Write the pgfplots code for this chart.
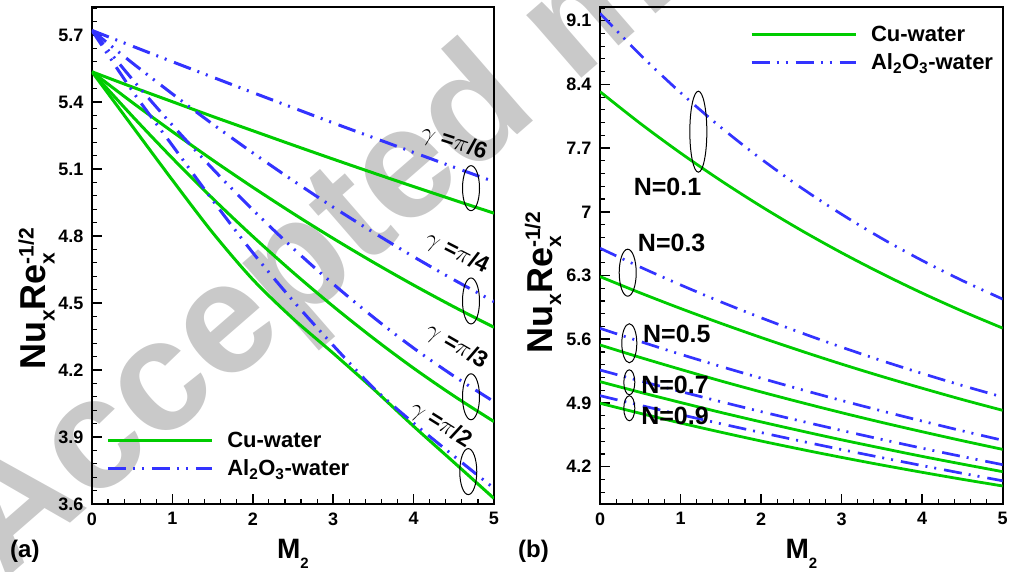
\documentclass[border=0pt]{standalone}
\usepackage{fontspec}
\setmainfont{Liberation Sans}
\usepackage{pgfplots}
\pgfplotsset{compat=1.18}

\definecolor{cuGreen}{RGB}{0,204,0}
\definecolor{alBlue}{RGB}{51,51,255}

\tikzset{
  cu/.style={cuGreen, line width=3pt, solid},
  al/.style={alBlue, line width=3pt, dash pattern=on 18pt off 7pt on 2pt off 7pt on 2pt off 8pt},
  cuR/.style={cu, line width=2.8pt},
  alR/.style={al, line width=2.7pt},
}

% Nu_x Re_x^{-1/2} with stacked sub/superscript
\newcommand{\nure}{Nu\raisebox{-9pt}{\fontsize{21}{21}\selectfont x}Re\rlap{\raisebox{-9pt}{\fontsize{21}{21}\selectfont x}}\raisebox{12pt}{\fontsize{21}{21}\selectfont -1/2}}
\newcommand{\mtwo}{M\raisebox{-10pt}{\fontsize{15}{15}\selectfont 2}}

\pgfplotsset{
  panel/.style={
    scale only axis, height=497pt, xmin=0, xmax=5,
    axis line style={line width=2pt},
    tick align=inside, tick pos=left,
    major tick length=10pt, minor tick length=5pt,
    major tick style={black, line width=1.6pt},
    minor tick style={black, line width=1.2pt},
    xtick={0,1,2,3,4,5}, minor xtick={0,0.2,...,5},
    /pgf/number format/assume math mode=true,
    ticklabel style={font=\bfseries\fontsize{18}{18}\selectfont},
    yticklabel style={xshift=-5pt},
    xticklabel style={yshift=-5pt},
    xlabel={\mtwo},
    xlabel style={font=\bfseries\fontsize{28}{28}\selectfont, at={(axis description cs:0.5,0)}, anchor=base, yshift=-54pt},
    ylabel={\nure},
    ylabel style={font=\bfseries\fontsize{36}{36}\selectfont, anchor=center},
    legend cell align=left,
    legend image code/.code={\draw[##1] (0pt,0pt) -- (104pt,0pt);},
    legend style={draw=none, fill=none, inner sep=0pt, nodes={inner sep=2pt},
      font=\bfseries\fontsize{22}{22}\selectfont, row sep=7pt,
      /tikz/every odd column/.append style={column sep=12pt}},
  }
}

\begin{document}
\begin{tikzpicture}
\path[use as bounding box] (0pt,0pt) rectangle (1009pt,571pt);

% watermark
\node[anchor=base west, rotate=41, text=black!21, inner sep=0pt,
      font=\bfseries\fontsize{158}{158}\selectfont] at (4pt,-10pt) {Accepted manuscript};

% (a) effect of inclination angle
\begin{axis}[panel, at={(92pt,67pt)}, anchor=south west, width=402pt,
  ymin=3.6, ymax=5.825,
  ytick={3.6,3.9,4.2,4.5,4.8,5.1,5.4,5.7},
  minor ytick={3.6,3.66,...,5.82},
  ylabel style={at={(axis description cs:-0.138,0.4125)}},
  legend style={at={(axis description cs:0.035,0.15)}, anchor=north west},
]
% gamma = pi/6
\addplot[cu, smooth, forget plot] coordinates {(0,5.535)(0.5,5.467)(1,5.401)(1.5,5.335)(2,5.271)(2.5,5.207)(3,5.144)(3.5,5.082)(4,5.021)(4.5,4.961)(5,4.902)};
\addplot[al, smooth, forget plot] coordinates {(0,5.720)(0.5,5.650)(1,5.580)(1.5,5.511)(2,5.442)(2.5,5.374)(3,5.306)(3.5,5.240)(4,5.174)(4.5,5.108)(5,5.043)};
% gamma = pi/4
\addplot[cu, smooth, forget plot] coordinates {(0,5.535)(0.5,5.398)(1,5.267)(1.5,5.140)(2,5.018)(2.5,4.901)(3,4.789)(3.5,4.682)(4,4.580)(4.5,4.483)(5,4.391)};
\addplot[al, smooth, forget plot] coordinates {(0,5.720)(0.5,5.575)(1,5.436)(1.5,5.301)(2,5.172)(2.5,5.048)(3,4.929)(3.5,4.816)(4,4.707)(4.5,4.604)(5,4.506)};
% gamma = pi/3
\addplot[cu, smooth, forget plot] coordinates {(0,5.535)(0.5,5.337)(1,5.148)(1.5,4.968)(2,4.798)(2.5,4.637)(3,4.485)(3.5,4.342)(4,4.208)(4.5,4.084)(5,3.969)};
\addplot[al, smooth, forget plot] coordinates {(0,5.720)(0.5,5.502)(1,5.296)(1.5,5.101)(2,4.917)(2.5,4.745)(3,4.585)(3.5,4.436)(4,4.298)(4.5,4.173)(5,4.058)};
% gamma = pi/2
\addplot[cu, smooth, forget plot] coordinates {(0,5.535)(0.5,5.292)(1,5.050)(1.5,4.815)(2,4.605)(2.5,4.430)(3,4.275)(3.5,4.115)(4,3.948)(4.5,3.787)(5,3.625)};
\addplot[al, smooth, forget plot] coordinates {(0,5.720)(0.5,5.450)(1,5.205)(1.5,4.960)(2,4.725)(2.5,4.510)(3,4.310)(3.5,4.120)(4,3.962)(4.5,3.815)(5,3.670)};

\addlegendimage{cu}\addlegendentry{Cu-water}
\addlegendimage{al}\addlegendentry{Al\textsubscript{2}O\textsubscript{3}-water}

\draw[black, line width=1pt] (axis cs:4.714,5.014) ellipse [x radius=8.5pt, y radius=22.5pt];
\draw[black, line width=1pt] (axis cs:4.714,4.509) ellipse [x radius=8.5pt, y radius=23pt];
\draw[black, line width=1pt] (axis cs:4.714,4.080) ellipse [x radius=8.5pt, y radius=23pt];
\draw[black, line width=1pt] (axis cs:4.680,3.745) ellipse [x radius=8.5pt, y radius=23pt];

\begin{scope}[every node/.style={font=\bfseries\fontsize{23}{23}\selectfont, inner sep=0pt}]
\node[rotate=-18] at (axis cs:4.502,5.215) {$\gamma$ =$\pi$/6};
\node[rotate=-27] at (axis cs:4.536,4.723) {$\gamma$ =$\pi$/4};
\node[rotate=-30] at (axis cs:4.536,4.304) {$\gamma$ =$\pi$/3};
\node[rotate=-32] at (axis cs:4.337,3.954) {$\gamma$ =$\pi$/2};
\end{scope}
\end{axis}

% (b) effect of N
\begin{axis}[panel, at={(600pt,67pt)}, anchor=south west, width=402.7pt,
  ymin=3.79, ymax=9.25,
  ytick={4.2,4.9,5.6,6.3,7,7.7,8.4,9.1},
  minor ytick={3.92,4.06,...,9.24},
  ylabel style={at={(axis description cs:-0.1415,0.4457)}},
  legend style={at={(axis description cs:0.3725,0.966)}, anchor=north west},
]
% N = 0.1
\addplot[cuR, smooth, forget plot] coordinates {(0,8.320)(0.5,7.971)(1,7.646)(1.5,7.343)(2,7.060)(2.5,6.796)(3,6.550)(3.5,6.321)(4,6.107)(4.5,5.908)(5,5.722)};
\addplot[alR, smooth, forget plot] coordinates {(0,9.180)(0.5,8.725)(1,8.309)(1.5,7.928)(2,7.581)(2.5,7.263)(3,6.973)(3.5,6.707)(4,6.465)(4.5,6.244)(5,6.041)};
% N = 0.3
\addplot[cuR, smooth, forget plot] coordinates {(0,6.288)(0.5,6.109)(1,5.938)(1.5,5.775)(2,5.619)(2.5,5.470)(3,5.327)(3.5,5.191)(4,5.062)(4.5,4.937)(5,4.819)};
\addplot[alR, smooth, forget plot] coordinates {(0,6.600)(0.5,6.393)(1,6.197)(1.5,6.011)(2,5.836)(2.5,5.670)(3,5.513)(3.5,5.364)(4,5.224)(4.5,5.091)(5,4.965)};
% N = 0.5
\addplot[cuR, smooth, forget plot] coordinates {(0,5.537)(0.5,5.400)(1,5.269)(1.5,5.142)(2,5.021)(2.5,4.905)(3,4.793)(3.5,4.686)(4,4.584)(4.5,4.485)(5,4.390)};
\addplot[alR, smooth, forget plot] coordinates {(0,5.720)(0.5,5.575)(1,5.435)(1.5,5.301)(2,5.172)(2.5,5.047)(3,4.927)(3.5,4.812)(4,4.701)(4.5,4.593)(5,4.490)};
% N = 0.7
\addplot[cuR, smooth, forget plot] coordinates {(0,5.134)(0.5,5.017)(1,4.905)(1.5,4.796)(2,4.692)(2.5,4.592)(3,4.495)(3.5,4.403)(4,4.313)(4.5,4.228)(5,4.145)};
\addplot[alR, smooth, forget plot] coordinates {(0,5.262)(0.5,5.142)(1,5.026)(1.5,4.914)(2,4.805)(2.5,4.700)(3,4.598)(3.5,4.499)(4,4.403)(4.5,4.311)(5,4.222)};
% N = 0.9
\addplot[cuR, smooth, forget plot] coordinates {(0,4.897)(0.5,4.786)(1,4.680)(1.5,4.579)(2,4.482)(2.5,4.390)(3,4.302)(3.5,4.218)(4,4.138)(4.5,4.061)(5,3.988)};
\addplot[alR, smooth, forget plot] coordinates {(0,4.980)(0.5,4.874)(1,4.772)(1.5,4.672)(2,4.575)(2.5,4.480)(3,4.388)(3.5,4.299)(4,4.212)(4.5,4.127)(5,4.045)};

\addlegendimage{cuR}\addlegendentry{Cu-water}
\addlegendimage{alR}\addlegendentry{Al\textsubscript{2}O\textsubscript{3}-water}

\draw[black, line width=1pt] (axis cs:1.221,7.880) ellipse [x radius=8.5pt, y radius=40.5pt];
\draw[black, line width=1pt] (axis cs:0.344,6.331) ellipse [x radius=8.5pt, y radius=23.5pt];
\draw[black, line width=1pt] (axis cs:0.364,5.556) ellipse [x radius=7.5pt, y radius=19.5pt];
\draw[black, line width=1pt] (axis cs:0.364,5.127) ellipse [x radius=5.5pt, y radius=12.5pt];
\draw[black, line width=1pt] (axis cs:0.364,4.842) ellipse [x radius=5.5pt, y radius=12.5pt];

\begin{scope}[every node/.style={font=\bfseries\fontsize{25}{25}\selectfont, inner sep=0pt}]
\node at (axis cs:0.838,7.273) {N=0.1};
\node at (axis cs:0.890,6.658) {N=0.3};
\node at (axis cs:0.954,5.658) {N=0.5};
\node at (axis cs:0.931,5.098) {N=0.7};
\node at (axis cs:0.931,4.757) {N=0.9};
\end{scope}
\end{axis}

\node[anchor=base west, inner sep=0pt, font=\bfseries\fontsize{24}{24}\selectfont] at (10pt,14pt) {(a)};
\node[anchor=base west, inner sep=0pt, font=\bfseries\fontsize{24}{24}\selectfont] at (518pt,14pt) {(b)};
\end{tikzpicture}
\end{document}
